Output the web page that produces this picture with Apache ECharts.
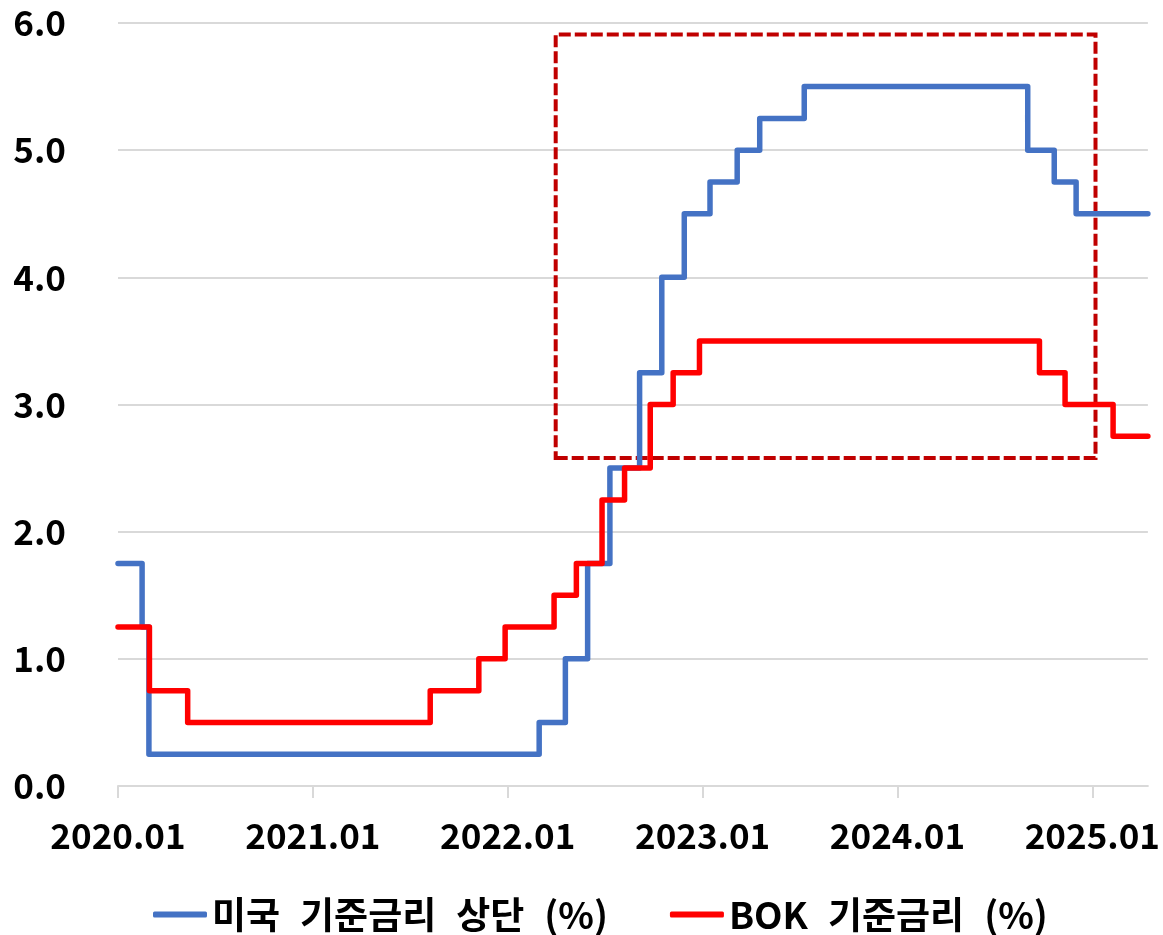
<!DOCTYPE html>
<html>
<head>
<meta charset="utf-8">
<script src="https://cdn.jsdelivr.net/npm/echarts@6/dist/echarts.min.js"></script>
<style>
html,body{margin:0;padding:0;background:#fff;}
#chart{width:1163px;height:935px;}
</style>
</head>
<body>
<div id="chart"></div>
<script>
// ---- Data ----
const seriesNames = ['미국 기준금리 상단 (%)', 'BOK 기준금리 (%)'];
const usDates  = ['2020-01-19','2020-03-03','2020-03-16','2022-03-17','2022-05-05','2022-06-16','2022-07-28','2022-09-22','2022-11-03','2022-12-15','2023-02-02','2023-03-23','2023-05-04','2023-07-27','2024-09-19','2024-11-08','2024-12-19','2025-05-01'];
const usRates  = [1.75,1.25,0.25,0.50,1.00,1.75,2.50,3.25,4.00,4.50,4.75,5.00,5.25,5.50,5.00,4.75,4.50,4.50];
const bokDates = ['2020-01-19','2020-03-17','2020-05-28','2021-08-26','2021-11-25','2022-01-14','2022-04-14','2022-05-26','2022-07-13','2022-08-25','2022-10-12','2022-11-24','2023-01-13','2024-10-11','2024-11-28','2025-02-25','2025-05-01'];
const bokRates = [1.25,0.75,0.50,0.75,1.00,1.25,1.50,1.75,2.25,2.50,3.00,3.25,3.50,3.25,3.00,2.75,2.75];
const axisStartDate = '2020-01-19';
const axisEndDate = '2025-05-01';
const xTickYears = [2020,2021,2022,2023,2024,2025];
// highlighted period box: [start date, end date], [low, high]
const boxDates = ['2022-04-17','2025-01-25'];
const boxRange = [2.58, 5.91];

// ---- helpers: convert date to month position on axis ----
function monthsSince2020(s){
  const [y,m,d] = s.split('-').map(Number);
  const dim = new Date(y, m, 0).getDate();
  return (y-2020)*12 + (m-1) + (d-1)/dim;
}
const x0 = monthsSince2020(axisStartDate);
const pos = s => monthsSince2020(s) - x0;
const yearPos = y => pos(y + '-01-19');

const usData = usDates.map((d,i)=>[pos(d), usRates[i]]);
const bokData = bokDates.map((d,i)=>[pos(d), bokRates[i]]);
const tickPositions = xTickYears.map(yearPos);

const FONT = '"Noto Sans CJK KR", "Noto Sans", sans-serif';
const legendText = {fontSize: 37, fontWeight:'bold', color:'#000', fontFamily: FONT};
const chart = echarts.init(document.getElementById('chart'), null, {renderer:'canvas'});
chart.setOption({
  animation: false,
  backgroundColor: '#ffffff',
  grid: {left:118, right:14, top:23, bottom:149, containLabel:false},
  xAxis: {
    type: 'value',
    min: 0,
    max: pos(axisEndDate),
    splitLine: {show:false},
    axisLine: {show:true, lineStyle:{color:'#d9d9d9', width:2}},
    axisTick: {show:true, length:12, lineStyle:{color:'#d9d9d9', width:2}, customValues: tickPositions},
    axisLabel: {
      customValues: tickPositions,
      margin: 32,
      fontSize: 35, fontWeight: 'bold', color:'#000', fontFamily: FONT,
      formatter: v => {
        const i = tickPositions.findIndex(t => Math.abs(t - v) < 0.01);
        return i >= 0 ? xTickYears[i] + '.01' : '';
      }
    }
  },
  yAxis: {
    type: 'value',
    min: 0, max: 6, interval: 1,
    axisLine: {show:false},
    axisTick: {show:false},
    splitLine: {show:true, lineStyle:{color:'#d9d9d9', width:2}},
    axisLabel: {
      margin: 52,
      fontSize: 35, fontWeight:'bold', color:'#000', fontFamily: FONT,
      formatter: v => v.toFixed(1)
    }
  },
  legend: {
    data: seriesNames,
    left: 148,
    top: 891,
    icon: 'roundRect',
    itemWidth: 54,
    itemHeight: 6,
    itemGap: 62,
    formatter: name => name.split(' ').map(w => '{t|' + w + '}').join('{s| }'),
    textStyle: Object.assign({}, legendText, {
      rich: {
        t: legendText,
        s: Object.assign({}, legendText, {width: 20})
      }
    })
  },
  series: [
    {
      name: seriesNames[0], type:'line', step:'end', showSymbol:false, symbol:'none',
      data: usData, color:'#4472C4',
      lineStyle:{width:5.5, color:'#4472C4', cap:'round', join:'round'}, z:2
    },
    {
      name: seriesNames[1], type:'line', step:'end', showSymbol:false, symbol:'none',
      data: bokData, color:'#FF0000',
      lineStyle:{width:5.5, color:'#FF0000', cap:'round', join:'round'}, z:3
    },
    {
      name: 'box', type:'line', data: [], z: 5, silent: true,
      markArea: {
        silent: true,
        itemStyle: {color:'rgba(0,0,0,0)', borderColor:'#C00000', borderWidth:4, borderType:[12,4]},
        data: [[{coord:[pos(boxDates[0]), boxRange[0]]}, {coord:[pos(boxDates[1]), boxRange[1]]}]]
      }
    }
  ]
});
</script>
</body>
</html>
